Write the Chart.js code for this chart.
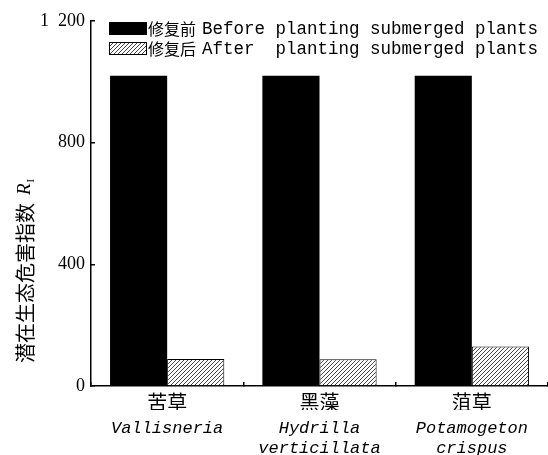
<!DOCTYPE html>
<html>
<head>
<meta charset="utf-8">
<script src="https://cdn.jsdelivr.net/npm/chart.js@4.4.0/dist/chart.umd.min.js"></script>
<style>
  html, body { margin: 0; padding: 0; background: #fff; }
  canvas { display: block; }
</style>
</head>
<body>
<canvas id="chart" width="548" height="455"></canvas>
<script>
// Categories: Chinese common names and Latin binomials of the submerged plants
const speciesCn = ['苦草', '黑藻', '菹草'];
const speciesLatin = [['Vallisneria'], ['Hydrilla', 'verticillata'], ['Potamogeton', 'crispus']];

// Series
const seriesCn = ['修复前', '修复后'];
const seriesEn = ['Before planting submerged plants', 'After  planting submerged plants'];
const beforeValues = [1020, 1020, 1020];
const afterValues = [89, 88, 130];

// Value axis
const yTickValues = [0, 400, 800, 1200];
const yTickLabels = ['0', '400', '800', '1\u2002200'];
const yTitleCn = '潜在生态危害指数';

const CJK = '"Noto Sans CJK SC"';
const MONO = '"Liberation Mono"';
const SERIF = '"Liberation Serif"';

// Diagonal hatch fill for the "after" bars
function makeHatch() {
  const c = document.createElement('canvas');
  c.width = 4; c.height = 4;
  const g = c.getContext('2d');
  g.fillStyle = '#fff';
  g.fillRect(0, 0, 4, 4);
  g.strokeStyle = '#444';
  g.lineWidth = 1;
  g.beginPath();
  g.moveTo(0, 4); g.lineTo(4, 0);
  g.moveTo(-1, 1); g.lineTo(1, -1);
  g.moveTo(3, 5); g.lineTo(5, 3);
  g.stroke();
  return g.createPattern(c, 'repeat');
}
const hatch = makeHatch();

// Legend inside the plot and the rotated y-axis title with italic R and subscript I
const overlay = {
  id: 'overlay',
  afterDraw(chart) {
    const ctx = chart.ctx;
    const a = chart.chartArea;
    ctx.save();
    chart.data.datasets.forEach((ds, i) => {
      const bx = a.left + 18, by = a.top + 1 + i * 20, bw = 38, bh = 13;
      ctx.fillStyle = ds.backgroundColor;
      ctx.fillRect(bx, by, bw, bh);
      if (ds.borderWidth) {
        ctx.strokeStyle = '#000';
        ctx.lineWidth = 1;
        ctx.strokeRect(bx + 0.5, by + 0.5, bw - 1, bh - 1);
      }
      ctx.fillStyle = '#000';
      ctx.textBaseline = 'middle';
      ctx.textAlign = 'left';
      ctx.font = '16px ' + CJK;
      let tx = bx + bw + 1;
      ctx.fillText(seriesCn[i], tx, by + bh / 2);
      tx += ctx.measureText(seriesCn[i]).width + 6;
      ctx.font = '17.5px ' + MONO;
      ctx.fillText(seriesEn[i], tx, by + bh / 2 + 1);
    });

    ctx.translate(25, 363);
    ctx.rotate(-Math.PI / 2);
    ctx.textBaseline = 'middle';
    ctx.textAlign = 'left';
    ctx.fillStyle = '#000';
    ctx.font = '20px ' + CJK;
    let x = 0;
    ctx.fillText(yTitleCn, x, 0);
    x += ctx.measureText(yTitleCn).width + 8;
    ctx.font = 'italic 19px ' + SERIF;
    ctx.fillText('R', x, 0);
    x += ctx.measureText('R').width + 1;
    ctx.font = '11px ' + SERIF;
    ctx.fillText('I', x, 6);
    ctx.restore();
  }
};

new Chart(document.getElementById('chart'), {
  type: 'bar',
  data: {
    labels: speciesCn,
    datasets: [
      { label: seriesCn[0] + ' ' + seriesEn[0], data: beforeValues, backgroundColor: '#000', borderColor: '#000', borderWidth: 0 },
      { label: seriesCn[1] + ' ' + seriesEn[1], data: afterValues, backgroundColor: hatch, borderColor: '#000', borderWidth: 1 }
    ]
  },
  options: {
    responsive: false,
    animation: false,
    devicePixelRatio: 1,
    layout: { padding: { top: 21, right: -4, bottom: 0, left: 0 } },
    plugins: { legend: { display: false }, tooltip: { enabled: false } },
    datasets: { bar: { categoryPercentage: 0.75, barPercentage: 1, borderSkipped: 'bottom' } },
    scales: {
      x: {
        offset: true,
        weight: 0,
        grid: { offset: true, drawOnChartArea: false, drawTicks: true, tickLength: -4, color: '#000', lineWidth: 1.5 },
        border: { display: true, color: '#000', width: 1.5 },
        ticks: { color: '#000', font: { family: CJK, size: 20 }, padding: 8, maxRotation: 0, autoSkip: false },
        afterFit: s => { s.height = 24; }
      },
      x2: {
        type: 'category',
        position: 'bottom',
        labels: speciesLatin,
        offset: true,
        weight: 1,
        grid: { display: false },
        border: { display: false },
        ticks: { color: '#000', font: { family: MONO, size: 17, style: 'italic', lineHeight: 1.2 }, padding: 0, maxRotation: 0, autoSkip: false },
        afterFit: s => { s.height = 45; }
      },
      y: {
        min: 0,
        max: 1200,
        grid: { drawOnChartArea: false, drawTicks: true, tickLength: -4, color: '#000', lineWidth: 1.5 },
        border: { color: '#000', width: 1.5 },
        ticks: {
          stepSize: 400,
          color: '#000',
          font: { family: SERIF, size: 18 },
          padding: 10,
          callback: v => yTickLabels[yTickValues.indexOf(v)]
        },
        afterFit: s => { s.width = 91; }
      }
    }
  },
  plugins: [overlay]
});
</script>
</body>
</html>
